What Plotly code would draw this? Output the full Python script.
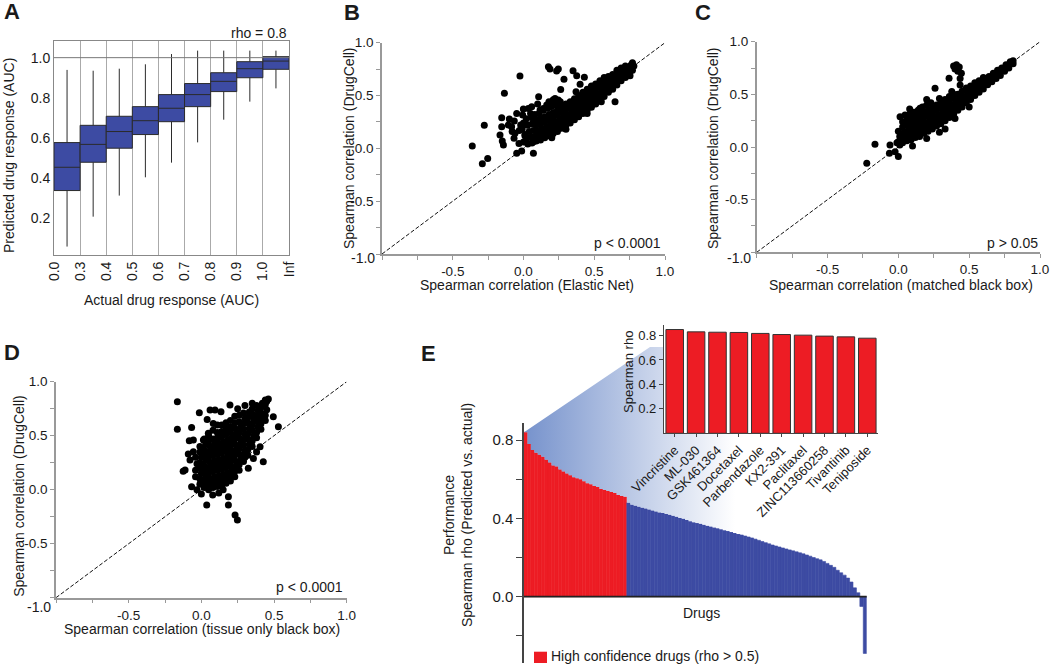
import plotly.graph_objects as go

W, H = 1050, 666
FONT = "Liberation Sans, Arial, Helvetica, sans-serif"
TXT = "#1a1a1a"
BLUE = "#3D4BA3"
RED = "#ED1C24"

# ---------------- Panel A: predicted vs actual AUC (box summaries) ----------------
auc_bins = ["0.0", "0.3", "0.4", "0.5", "0.6", "0.7", "0.8", "0.9", "1.0", "Inf"]
a_lower = [0.059, 0.208, 0.313, 0.404, 0.477, 0.578, 0.691, 0.781, 0.847]
a_q1 = [0.338, 0.479, 0.549, 0.617, 0.681, 0.756, 0.831, 0.900, 0.942]
a_median = [0.454, 0.568, 0.632, 0.686, 0.748, 0.816, 0.882, 0.945, 0.983]
a_q3 = [0.577, 0.663, 0.708, 0.756, 0.816, 0.871, 0.925, 0.980, 1.005]
a_upper = [0.939, 0.935, 0.945, 0.967, 1.018, 1.035, 1.035, 1.035, 1.035]

# ---------------- Panel B: DrugCell vs Elastic Net ----------------
b_points = [
    (-0.362, 0.022), (-0.291, -0.145), (-0.253, -0.095), (-0.277, 0.218), (-0.135, 0.521), (-0.025, 0.685),
    (-0.154, 0.290), (-0.154, 0.205), (-0.166, 0.126), (-0.142, 0.031), (-0.150, 0.070), (-0.100, 0.278),
    (-0.065, 0.259), (-0.048, 0.331), (-0.001, 0.372), (0.107, 0.489), (0.176, 0.773), (0.187, 0.751),
    (0.234, 0.732), (0.246, 0.751), (0.286, 0.653), (0.350, 0.735), (0.376, 0.688), (0.430, 0.672),
    (0.263, 0.558), (0.400, 0.606), (0.371, 0.536), (0.647, 0.442), (0.753, 0.688), (-0.048, -0.047),
    (-0.013, -0.025), (0.070, -0.047), (0.070, 0.063), (0.022, 0.221), (0.034, 0.378), (0.058, 0.394),
    (-0.006, 0.315), (-0.084, 0.205), (-0.060, 0.142), (-0.107, 0.221), (-0.067, 0.095), (-0.032, 0.047),
    (0.011, 0.132), (0.223, 0.473), (0.246, 0.457), (0.211, 0.410), (0.187, 0.394), (0.140, 0.378),
    (0.117, 0.363), (0.164, 0.410), (-0.030, 0.170), (-0.020, 0.220), (-0.080, 0.160), (0.050, 0.330),
    (0.100, 0.420), (0.200, 0.100), (0.300, 0.180), (0.450, 0.330), (0.550, 0.440),
    (0.00, 0.06), (0.01, 0.12), (-0.01, 0.18), (0.00, 0.24),
    (0.03, 0.04), (0.03, 0.10), (0.04, 0.16), (0.03, 0.22), (0.02, 0.28),
    (0.06, 0.05), (0.06, 0.11), (0.07, 0.17), (0.06, 0.23), (0.06, 0.29),
    (0.09, 0.07), (0.09, 0.12), (0.10, 0.17), (0.09, 0.22), (0.09, 0.27), (0.08, 0.32),
    (0.12, 0.08), (0.12, 0.13), (0.13, 0.18), (0.12, 0.23), (0.12, 0.28), (0.11, 0.33),
    (0.15, 0.10), (0.15, 0.15), (0.16, 0.20), (0.15, 0.25), (0.15, 0.30), (0.14, 0.36),
    (0.18, 0.12), (0.18, 0.17), (0.19, 0.22), (0.18, 0.27), (0.18, 0.32), (0.17, 0.38), (0.18, 0.44),
    (0.21, 0.14), (0.21, 0.19), (0.22, 0.24), (0.21, 0.29), (0.21, 0.34), (0.20, 0.40), (0.21, 0.46),
    (0.24, 0.16), (0.24, 0.21), (0.25, 0.26), (0.24, 0.31), (0.24, 0.36), (0.23, 0.41),
    (0.27, 0.19), (0.27, 0.24), (0.28, 0.29), (0.27, 0.34), (0.27, 0.39), (0.26, 0.44),
    (0.30, 0.22), (0.30, 0.27), (0.31, 0.32), (0.30, 0.37), (0.30, 0.42),
    (0.33, 0.24), (0.33, 0.29), (0.34, 0.34), (0.33, 0.39), (0.33, 0.44),
    (0.36, 0.27), (0.36, 0.32), (0.37, 0.37), (0.36, 0.42), (0.36, 0.47),
    (0.39, 0.30), (0.39, 0.35), (0.40, 0.40), (0.39, 0.45), (0.39, 0.50),
    (0.42, 0.33), (0.42, 0.38), (0.43, 0.43), (0.42, 0.48), (0.42, 0.53),
    (0.45, 0.36), (0.45, 0.41), (0.46, 0.46), (0.45, 0.51), (0.45, 0.56),
    (0.48, 0.39), (0.48, 0.44), (0.49, 0.49), (0.48, 0.54), (0.48, 0.59),
    (0.51, 0.42), (0.51, 0.47), (0.52, 0.52), (0.51, 0.57), (0.51, 0.61),
    (0.54, 0.46), (0.54, 0.51), (0.55, 0.56), (0.54, 0.61), (0.54, 0.64),
    (0.57, 0.49), (0.57, 0.54), (0.58, 0.59), (0.57, 0.64), (0.57, 0.67),
    (0.60, 0.53), (0.60, 0.58), (0.61, 0.63), (0.60, 0.68),
    (0.63, 0.56), (0.63, 0.61), (0.64, 0.66), (0.63, 0.70),
    (0.66, 0.60), (0.66, 0.65), (0.67, 0.70), (0.66, 0.74),
    (0.69, 0.64), (0.69, 0.68), (0.70, 0.72), (0.69, 0.76),
    (0.72, 0.67), (0.72, 0.71), (0.73, 0.75), (0.72, 0.78),
    (0.75, 0.71), (0.75, 0.75), (0.76, 0.79),
    (0.77, 0.74), (0.78, 0.78), (0.77, 0.81),
]

# ---------------- Panel C: DrugCell vs matched black box ----------------
c_points = [
    (-0.223, -0.155), (-0.165, 0.026), (-0.059, 0.019), (-0.063, -0.060), (-0.023, -0.044), (0.000, -0.090),
    (0.012, 0.288), (0.047, 0.304), (0.153, 0.368), (0.259, 0.557), (0.358, 0.652), (0.390, 0.770),
    (0.410, 0.780), (0.430, 0.760), (0.420, 0.720), (0.445, 0.700), (0.400, 0.740), (0.436, 0.650),
    (0.377, 0.526), (0.436, 0.589), (0.290, 0.140), (0.330, 0.170), (-0.010, 0.040), (0.010, 0.020),
    (0.100, 0.010), (0.200, 0.080), (0.400, 0.270), (0.500, 0.380), (0.080, 0.360), (0.200, 0.450),
    (0.00, 0.05), (0.01, 0.10), (0.00, 0.15),
    (0.03, 0.04), (0.03, 0.09), (0.04, 0.14), (0.03, 0.19), (0.03, 0.24),
    (0.06, 0.06), (0.06, 0.11), (0.07, 0.16), (0.06, 0.21), (0.06, 0.26),
    (0.09, 0.07), (0.09, 0.12), (0.10, 0.17), (0.09, 0.22), (0.09, 0.27), (0.08, 0.31),
    (0.12, 0.09), (0.12, 0.14), (0.13, 0.19), (0.12, 0.24), (0.12, 0.29), (0.11, 0.33),
    (0.15, 0.10), (0.15, 0.15), (0.16, 0.20), (0.15, 0.25), (0.15, 0.30), (0.14, 0.35),
    (0.18, 0.13), (0.18, 0.18), (0.19, 0.23), (0.18, 0.28), (0.18, 0.33), (0.17, 0.38),
    (0.21, 0.15), (0.21, 0.20), (0.22, 0.25), (0.21, 0.30), (0.21, 0.35), (0.20, 0.40),
    (0.24, 0.17), (0.24, 0.22), (0.25, 0.27), (0.24, 0.32), (0.24, 0.37), (0.23, 0.42),
    (0.27, 0.20), (0.27, 0.25), (0.28, 0.30), (0.27, 0.35), (0.27, 0.40),
    (0.30, 0.22), (0.30, 0.27), (0.31, 0.32), (0.30, 0.37), (0.30, 0.42), (0.29, 0.46),
    (0.33, 0.25), (0.33, 0.30), (0.34, 0.35), (0.33, 0.40), (0.33, 0.45),
    (0.36, 0.28), (0.36, 0.33), (0.37, 0.38), (0.36, 0.43), (0.36, 0.48),
    (0.39, 0.31), (0.39, 0.36), (0.40, 0.41), (0.39, 0.46), (0.39, 0.50),
    (0.42, 0.35), (0.42, 0.40), (0.43, 0.45), (0.42, 0.50),
    (0.45, 0.38), (0.45, 0.43), (0.46, 0.48), (0.45, 0.53),
    (0.48, 0.42), (0.48, 0.47), (0.49, 0.52), (0.48, 0.56),
    (0.51, 0.45), (0.51, 0.50), (0.52, 0.55), (0.51, 0.58),
    (0.54, 0.49), (0.54, 0.53), (0.55, 0.57), (0.54, 0.61),
    (0.57, 0.52), (0.57, 0.56), (0.58, 0.60), (0.57, 0.63),
    (0.60, 0.55), (0.60, 0.59), (0.61, 0.63), (0.60, 0.66),
    (0.63, 0.59), (0.63, 0.63), (0.64, 0.67),
    (0.66, 0.62), (0.66, 0.66), (0.67, 0.70),
    (0.69, 0.65), (0.69, 0.69), (0.70, 0.73),
    (0.72, 0.68), (0.72, 0.72), (0.73, 0.75),
    (0.75, 0.72), (0.75, 0.75), (0.76, 0.78),
    (0.78, 0.75), (0.78, 0.78), (0.79, 0.81),
    (0.81, 0.79), (0.81, 0.82),
]

# ---------------- Panel D: DrugCell vs tissue-only black box ----------------
d_points = [
    (-0.165, 0.815), (-0.165, 0.559), (-0.067, 0.577), (-0.112, 0.182), (-0.125, 0.170), (-0.067, 0.028),
    (0.037, -0.142), (0.186, -0.142), (0.186, -0.065), (0.232, -0.234), (0.248, -0.281), (0.078, -0.049),
    (0.404, 0.398), (0.530, 0.583), (0.495, 0.676), (0.461, 0.840), (0.197, 0.784), (-0.014, 0.713),
    (0.060, 0.738), (0.094, 0.738), (0.135, 0.722), (-0.083, 0.454), (-0.055, 0.460), (-0.055, 0.352),
    (-0.078, 0.275), (0.014, 0.460), (0.048, 0.522), (0.082, 0.614), (0.426, 0.259), (0.358, 0.290),
    (0.323, 0.198), (0.415, 0.645), (0.120, -0.030), (0.000, -0.040), (-0.030, 0.000), (0.150, 0.000),
    (0.300, 0.300), (0.380, 0.350), (-0.090, 0.330), (0.040, 0.650), (0.250, 0.750), (0.300, 0.780),
    (0.350, 0.800), (0.450, 0.820),
    (-0.04, 0.12), (-0.04, 0.18), (-0.03, 0.24), (-0.04, 0.30),
    (-0.01, 0.05), (-0.01, 0.10), (0.00, 0.15), (-0.01, 0.20), (-0.01, 0.25), (0.00, 0.30), (-0.01, 0.35), (-0.01, 0.40),
    (0.02, 0.02), (0.02, 0.07), (0.03, 0.12), (0.02, 0.17), (0.02, 0.22), (0.03, 0.27), (0.02, 0.32), (0.02, 0.37), (0.03, 0.42), (0.02, 0.47),
    (0.05, 0.00), (0.05, 0.05), (0.06, 0.10), (0.05, 0.15), (0.05, 0.20), (0.06, 0.25), (0.05, 0.30), (0.05, 0.35), (0.06, 0.40), (0.05, 0.45), (0.05, 0.50),
    (0.08, 0.02), (0.08, 0.07), (0.09, 0.12), (0.08, 0.17), (0.08, 0.22), (0.09, 0.27), (0.08, 0.32), (0.08, 0.37), (0.09, 0.42), (0.08, 0.47), (0.08, 0.55),
    (0.11, 0.03), (0.11, 0.08), (0.12, 0.13), (0.11, 0.18), (0.11, 0.23), (0.12, 0.28), (0.11, 0.33), (0.11, 0.38), (0.12, 0.43), (0.11, 0.48), (0.11, 0.53), (0.11, 0.60),
    (0.14, 0.04), (0.14, 0.09), (0.15, 0.14), (0.14, 0.19), (0.14, 0.24), (0.15, 0.29), (0.14, 0.34), (0.14, 0.39), (0.15, 0.44), (0.14, 0.49), (0.14, 0.54), (0.14, 0.60),
    (0.17, 0.06), (0.17, 0.11), (0.18, 0.16), (0.17, 0.21), (0.17, 0.26), (0.18, 0.31), (0.17, 0.36), (0.17, 0.41), (0.18, 0.46), (0.17, 0.51), (0.17, 0.56), (0.17, 0.62),
    (0.20, 0.08), (0.20, 0.13), (0.21, 0.18), (0.20, 0.23), (0.20, 0.28), (0.21, 0.33), (0.20, 0.38), (0.20, 0.43), (0.21, 0.48), (0.20, 0.53), (0.20, 0.58), (0.20, 0.64),
    (0.23, 0.12), (0.23, 0.17), (0.24, 0.22), (0.23, 0.27), (0.23, 0.32), (0.24, 0.37), (0.23, 0.42), (0.23, 0.47), (0.24, 0.52), (0.23, 0.57), (0.23, 0.62), (0.23, 0.68),
    (0.26, 0.18), (0.26, 0.23), (0.27, 0.28), (0.26, 0.33), (0.26, 0.38), (0.27, 0.43), (0.26, 0.48), (0.26, 0.53), (0.27, 0.58), (0.26, 0.63), (0.26, 0.69),
    (0.29, 0.26), (0.29, 0.31), (0.30, 0.36), (0.29, 0.41), (0.29, 0.46), (0.30, 0.51), (0.29, 0.56), (0.29, 0.61), (0.30, 0.66), (0.29, 0.71),
    (0.32, 0.32), (0.32, 0.37), (0.33, 0.42), (0.32, 0.47), (0.32, 0.52), (0.33, 0.57), (0.32, 0.62), (0.32, 0.67), (0.33, 0.72),
    (0.35, 0.40), (0.35, 0.45), (0.36, 0.50), (0.35, 0.55), (0.35, 0.60), (0.36, 0.65), (0.35, 0.70), (0.35, 0.75),
    (0.38, 0.48), (0.38, 0.53), (0.39, 0.58), (0.38, 0.63), (0.38, 0.68), (0.39, 0.73), (0.38, 0.78),
    (0.41, 0.56), (0.41, 0.61), (0.42, 0.66), (0.41, 0.71), (0.41, 0.76), (0.42, 0.80),
    (0.44, 0.64), (0.44, 0.69), (0.45, 0.74), (0.44, 0.79), (0.44, 0.83),
]

# ---------------- Panel E: per-drug performance (sorted) ----------------
e_rho = [0.84, 0.78, 0.75, 0.735, 0.725, 0.715, 0.70, 0.685, 0.67, 0.665,
         0.65, 0.64, 0.63, 0.62, 0.61, 0.605, 0.60, 0.59, 0.58, 0.575,
         0.565, 0.56, 0.55, 0.545, 0.54, 0.535, 0.53, 0.52, 0.515, 0.51,
         0.48, 0.47, 0.465, 0.46, 0.455, 0.45, 0.445, 0.44, 0.435, 0.43,
         0.428, 0.423, 0.418, 0.413, 0.408, 0.402, 0.398, 0.392, 0.386, 0.38,
         0.376, 0.372, 0.367, 0.362, 0.358, 0.354, 0.35, 0.345, 0.34, 0.335,
         0.33, 0.325, 0.32, 0.315, 0.31, 0.305, 0.30, 0.294, 0.288, 0.282,
         0.276, 0.27, 0.264, 0.259, 0.254, 0.249, 0.244, 0.239, 0.234, 0.229,
         0.224, 0.219, 0.213, 0.207, 0.20, 0.194, 0.188, 0.18, 0.17, 0.16,
         0.15, 0.135, 0.122, 0.11, 0.095, 0.075, 0.045, 0.02, -0.05, -0.29]
rho_threshold = 0.5

top_drugs = ["Vincristine", "ML-030", "GSK461364", "Docetaxel", "Parbendazole",
             "KX2-391", "Paclitaxel", "ZINC113660258", "Tivantinib", "Teniposide"]
top_rho = [0.849, 0.830, 0.827, 0.825, 0.817, 0.808, 0.803, 0.795, 0.789, 0.778]

# ---------------- layout helpers (pixel -> paper) ----------------
def xdom(a, b):
    return [a / W, b / W]

def ydom(top, bottom):
    return [1 - bottom / H, 1 - top / H]

def ann(text, x, y, xanchor="center", yanchor="middle", size=14, angle=0):
    return dict(text=text, x=x / W, y=1 - y / H, xref="paper", yref="paper",
                xanchor=xanchor, yanchor=yanchor, showarrow=False, textangle=angle,
                font=dict(size=size, family=FONT, color=TXT))

fig = go.Figure()

# Panel A boxes
a_pos = [i + 0.5 for i in range(len(a_q1))]
fig.add_trace(go.Box(x=a_pos, q1=a_q1, median=a_median, q3=a_q3,
                     lowerfence=a_lower, upperfence=a_upper, width=1,
                     fillcolor=BLUE, line=dict(color="#2b2b2b", width=1),
                     whiskerwidth=0, boxpoints=False, showlegend=False,
                     xaxis="x", yaxis="y"))

# Scatter panels
for pts, ax in ((b_points, "2"), (c_points, "3"), (d_points, "4")):
    fig.add_trace(go.Scatter(x=[-1, 1], y=[-1, 1], mode="lines",
                             line=dict(color="#111", width=1, dash="4px,2px"),
                             xaxis="x" + ax, yaxis="y" + ax, showlegend=False))
    fig.add_trace(go.Scatter(x=[p[0] for p in pts], y=[p[1] for p in pts], mode="markers",
                             marker=dict(color="#000", size=7, line=dict(width=0)),
                             xaxis="x" + ax, yaxis="y" + ax, showlegend=False, cliponaxis=False))

# Panel E main sorted performance
e_idx = list(range(len(e_rho)))
e_col = [RED if v > rho_threshold else BLUE for v in e_rho]
fig.add_trace(go.Bar(x=e_idx, y=e_rho, width=1, marker=dict(color=e_col, line=dict(color=e_col, width=0.6)),
                     xaxis="x5", yaxis="y5", showlegend=False))

# E geometry (pixels) for the zoom wedge, derived from axis definitions
E_X0, E_X1, E_Y0, E_Y1 = 524, 866.7, 422.7, 663
E_XR = [-0.5, len(e_rho) - 0.5]
E_YR = [-0.339, 0.889]
IN_X0, IN_X1, IN_Y0, IN_Y1 = 664, 878, 325, 433.3

def e_px(x):
    return E_X0 + (x - E_XR[0]) / (E_XR[1] - E_XR[0]) * (E_X1 - E_X0)

def e_py(v):
    return E_Y1 - (v - E_YR[0]) / (E_YR[1] - E_YR[0]) * (E_Y1 - E_Y0)

n_w = 63
wx = [e_px(-0.5), 650, IN_X0, IN_X0, e_px(n_w - 0.5)]
wy = [e_py(e_rho[0]), 347, 347, IN_Y1, IN_Y1]
for i in reversed(range(n_w)):
    wx += [e_px(i + 0.5), e_px(i - 0.5)]
    wy += [e_py(e_rho[i]), e_py(e_rho[i])]
fig.add_trace(go.Scatter(x=wx, y=wy, mode="lines", fill="toself", line=dict(width=0),
                         fillgradient=dict(type="horizontal", start=E_X0, stop=735,
                                           colorscale=[[0, "rgb(118,146,204)"], [1, "rgb(255,255,255)"]]),
                         xaxis="x6", yaxis="y6", showlegend=False, hoverinfo="skip"))

# Inset top drugs
fig.add_trace(go.Bar(x=top_drugs, y=top_rho, width=0.82,
                     marker=dict(color=RED, line=dict(color="#333", width=1)),
                     xaxis="x7", yaxis="y7", showlegend=False))

tickfont = dict(size=14, family=FONT, color=TXT)
sc_tickfont = dict(size=13.5, family=FONT, color=TXT)
quarter = [-1, -0.75, -0.5, -0.25, 0, 0.25, 0.5, 0.75, 1]
qtext = ["", "", "-0.5", "", "0.0", "", "0.5", "", "1.0"]
sc_axis = dict(range=[-1, 1], tickvals=quarter, ticktext=qtext, ticks="outside", ticklen=4,
               tickcolor="#999", showline=True, linecolor="#999", linewidth=1.5,
               showgrid=False, zeroline=False, tickfont=sc_tickfont, fixedrange=True)

layout = dict(
    width=W, height=H, margin=dict(l=0, r=0, t=0, b=0, pad=0, autoexpand=False), autosize=False,
    paper_bgcolor="white", plot_bgcolor="rgba(0,0,0,0)", showlegend=False,
    font=dict(family=FONT, size=14, color=TXT),
    xaxis=dict(domain=xdom(54, 289), range=[0, len(auc_bins) - 1], tickvals=list(range(len(auc_bins))),
               ticktext=auc_bins, tickangle=-90, showgrid=True, gridcolor="#aaa", gridwidth=1,
               showline=True, mirror=True, linecolor="#888", ticks="", zeroline=False,
               tickfont=tickfont, anchor="y"),
    yaxis=dict(domain=ydom(41, 255), range=[0.017, 1.083], tickvals=[0.2, 0.4, 0.6, 0.8, 1.0],
               ticktext=["0.2", "0.4", "0.6", "0.8", "1.0"], showgrid=False, showline=True,
               mirror=True, linecolor="#888", ticks="", zeroline=False, tickfont=tickfont, anchor="x"),
    xaxis2=dict(domain=xdom(382, 665), anchor="y2", **sc_axis),
    yaxis2=dict(domain=ydom(42.7, 254), anchor="x2", **sc_axis),
    xaxis3=dict(domain=xdom(756.7, 1040), anchor="y3", **sc_axis),
    yaxis3=dict(domain=ydom(41.7, 252.3), anchor="x3", **sc_axis),
    xaxis4=dict(domain=xdom(56, 346.7), anchor="y4", **sc_axis),
    yaxis4=dict(domain=ydom(381.7, 597.7), anchor="x4", **sc_axis),
    xaxis5=dict(domain=xdom(E_X0, E_X1), range=E_XR, visible=False, anchor="y5"),
    yaxis5=dict(domain=ydom(E_Y0, E_Y1), range=E_YR, tickvals=[-0.2, 0, 0.2, 0.4, 0.6, 0.8],
                ticktext=["", "0.0", "", "0.4", "", "0.8"], ticks="outside", ticklen=6,
                tickcolor="#444", showline=True, linecolor="#444", linewidth=1.5,
                showgrid=False, zeroline=False, tickfont=dict(size=15, family=FONT, color=TXT),
                anchor="x5"),
    xaxis6=dict(domain=[0, 1], range=[0, W], visible=False, anchor="y6"),
    yaxis6=dict(domain=[0, 1], range=[H, 0], visible=False, anchor="x6"),
    xaxis7=dict(domain=xdom(IN_X0, IN_X1), type="category", range=[-0.5, len(top_drugs) - 0.5],
                showline=True, linecolor="#444", linewidth=1.2, ticks="outside", ticklen=3,
                tickcolor="#444", tickangle=-45, showgrid=False,
                tickfont=dict(size=13, family=FONT, color=TXT), anchor="y7"),
    yaxis7=dict(domain=ydom(IN_Y0, IN_Y1), range=[0, 0.886], tickvals=[0.2, 0.4, 0.6, 0.8],
                ticktext=["0.2", "0.4", "0.6", "0.8"], ticks="outside", ticklen=4, tickcolor="#444",
                showline=True, linecolor="#444", linewidth=1.2, showgrid=False, zeroline=False,
                tickfont=dict(size=13, family=FONT, color=TXT), anchor="x7"),
)
fig.update_layout(**layout)

shapes = [
    # reference line at AUC 1.0 in panel A
    dict(type="line", xref="x domain", yref="y", x0=0, x1=1, y0=1.0, y1=1.0,
         line=dict(color="#777", width=1)),
    # zero line of panel E
    dict(type="line", xref="x5 domain", yref="y5", x0=0, x1=1, y0=0, y1=0,
         line=dict(color="#222", width=1.6), layer="above"),
    # legend swatch
    dict(type="rect", xref="paper", yref="paper", x0=534 / W, x1=547 / W,
         y0=1 - 663 / H, y1=1 - 651.7 / H, fillcolor=RED, line=dict(width=0)),
]
fig.update_layout(shapes=shapes)

annotations = [
    ann("<b>A</b>", 2, 11, xanchor="left", size=22),
    ann("<b>B</b>", 342, 12, xanchor="left", size=22),
    ann("<b>C</b>", 693, 12.5, xanchor="left", size=22),
    ann("<b>D</b>", 2, 352, xanchor="left", size=22),
    ann("<b>E</b>", 419, 353.5, xanchor="left", size=22),
    ann("rho = 0.8", 289, 33, xanchor="right"),
    ann("Predicted drug response (AUC)", 9, 156, angle=-90),
    ann("Actual drug response (AUC)", 171, 300),
    ann("Spearman correlation (DrugCell)", 349, 148, angle=-90),
    ann("Spearman correlation (Elastic Net)", 526.7, 285),
    ann("Spearman correlation (DrugCell)", 713, 148, angle=-90),
    ann("Spearman correlation (matched black box)", 901, 284.5),
    ann("Spearman correlation (DrugCell)", 18.8, 496, angle=-90),
    ann("Spearman correlation (tissue only black box)", 201.7, 629),
    ann("p < 0.0001", 663.3, 242.7, xanchor="right"),
    ann("p > 0.05", 1040, 242.7, xanchor="right"),
    ann("p < 0.0001", 345, 587.3, xanchor="right"),
    ann("-1.0", 377, 258, xanchor="right"),
    ann("-1.0", 753, 258, xanchor="right"),
    ann("-1.0", 53, 607, xanchor="right"),
    ann("Performance<br>Spearman rho (Predicted vs. actual)", 458, 515, angle=-90),
    ann("Drugs", 701.7, 613),
    ann("High confidence drugs (rho > 0.5)", 549, 656, xanchor="left"),
    ann("Spearman rho", 629, 372, size=13, angle=-90),
]
fig.update_layout(annotations=annotations)

# remove the default 8px page margin so the figure sits at the window origin
fig.write_html("out.html", config={"displayModeBar": False},
               post_script="document.body.style.margin='0px';document.body.style.overflow='hidden';")
